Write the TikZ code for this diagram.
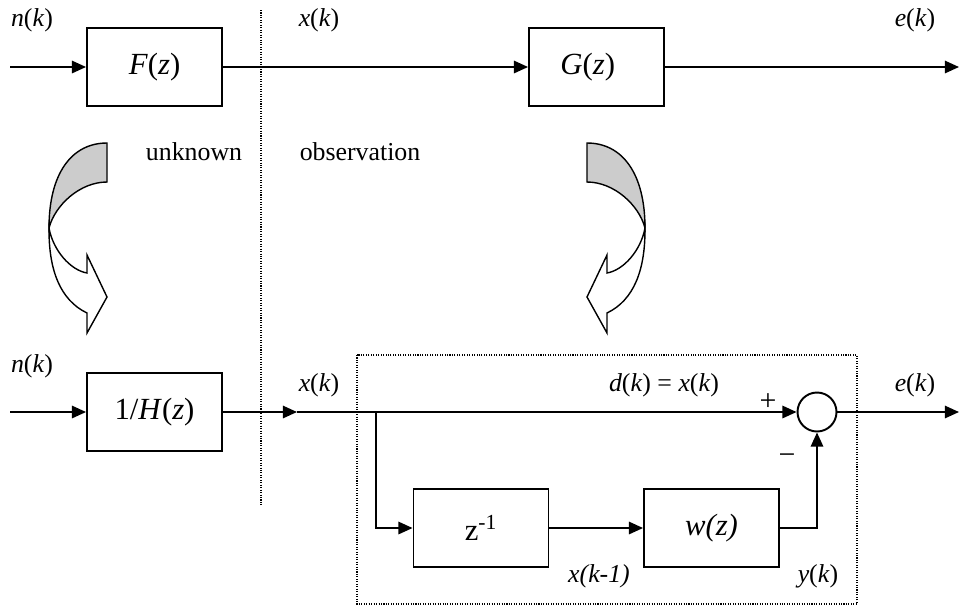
\documentclass[tikz,border=0pt]{standalone}
\usepackage{fontspec}
\setmainfont{Liberation Serif}
\usetikzlibrary{arrows.meta}

\begin{document}
\begin{tikzpicture}[
    x=0.02cm, y=-0.02cm,
    block/.style={draw, line width=1.1pt, minimum width=2.7cm, minimum height=1.56cm, inner sep=0pt, font=\fontsize{17.5}{20}\selectfont},
    adder/.style={circle, draw, line width=1.1pt, minimum size=0.78cm, inner sep=0pt},
    sig/.style={-{Triangle[length=8pt, width=7pt]}, line width=1.1pt},
    wire/.style={line width=1.1pt},
    lbl/.style={anchor=base, inner sep=0pt, font=\fontsize{14.7}{17}\selectfont},
    signtext/.style={inner sep=0pt, font=\fontsize{17}{19}\selectfont},
    divider/.style={line width=0.6pt, dash pattern=on 0.6pt off 0.8pt},
    turnarrow/.pic={
        \filldraw[fill=gray!40, line width=0.8pt] (0,0) .. controls (-35,0) and (-58,30) .. (-58,85)
            .. controls (-52,62) and (-27,39) .. (0,39) -- cycle;
        \filldraw[fill=white, line width=0.8pt] (-58,85) .. controls (-54,107) and (-37,127) .. (-20,130)
            -- (-20,112) -- (0,154) -- (-20,190) -- (-20,170)
            .. controls (-47,157) and (-58,127) .. (-58,87) -- cycle;
    }
]
    \useasboundingbox (0,0) rectangle (960,606);

    % Top row
    \node[block] (F) at (154.5,67) {\raisebox{-6.5pt}{\textit{F}(\textit{z})}};
    \node[block] (G) at (596.5,67) {\hspace*{-0.35cm}\textit{G}(\textit{z})};
    \coordinate (nin) at (10,67);
    \coordinate (eout) at (959,67);

    % Bottom row
    \node[block] (H) at (154.5,412) {1/\textit{H}(\textit{z})};
    \node[block] (Z) at (481,528) {z\textsuperscript{-1}};
    \node[block] (W) at (711.5,528) {\textit{w(z)}};
    \node[adder] (S) at (817,412) {};
    \coordinate (nin2) at (10,412);
    \coordinate (xin) at (297,412);
    \coordinate (branch) at (376,412);
    \coordinate (eout2) at (959,412);

    % Unknown / observation split
    \draw[divider] (261,10) -- (261,505);
    \draw[divider] (357,355) rectangle (857,604);

    % Signals
    \draw[sig] (nin) -- (F.west);
    \draw[sig] (F.east) -- (G.west);
    \draw[sig] (G.east) -- (eout);
    \draw[sig] (nin2) -- (H.west);
    \draw[sig] (H.east) -- (xin);
    \draw[sig] (xin) -- (S.west);
    \draw[sig] (branch) |- (Z.west);
    \draw[sig] (Z.east) -- (W.west);
    \draw[sig] (W.east) -| (S.south);
    \draw[sig] (S.east) -- (eout2);

    % Labels
    \node[lbl] (n1) at (32,26) {\textit{n}(\textit{k})};
    \node[lbl] (x1) at (319,26) {\textit{x}(\textit{k})};
    \node[lbl] (e1) at (915,26) {\textit{e}(\textit{k})};
    \node[lbl] (unk) at (194,160) {unknown};
    \node[lbl] (obs) at (360,160) {observation};
    \node[lbl] (n2) at (32,372) {\textit{n}(\textit{k})};
    \node[lbl] (x2) at (319,391) {\textit{x}(\textit{k})};
    \node[lbl] (d2) at (664,391) {\textit{d}(\textit{k}) = \textit{x}(\textit{k})};
    \node[lbl] (e2) at (915,391) {\textit{e}(\textit{k})};
    \node[lbl] (xd) at (599,582) {\textit{x(k-1)}};
    \node[lbl] (yk) at (818,582) {\textit{y}(\textit{k})};
    \node[signtext] (plus) at (768,402) {+};
    \node[signtext] (minus) at (787,459) {−};

    % Turn arrows
    \pic at (107,143) {turnarrow};
    \pic[xscale=-1] at (587,143) {turnarrow};
\end{tikzpicture}
\end{document}
